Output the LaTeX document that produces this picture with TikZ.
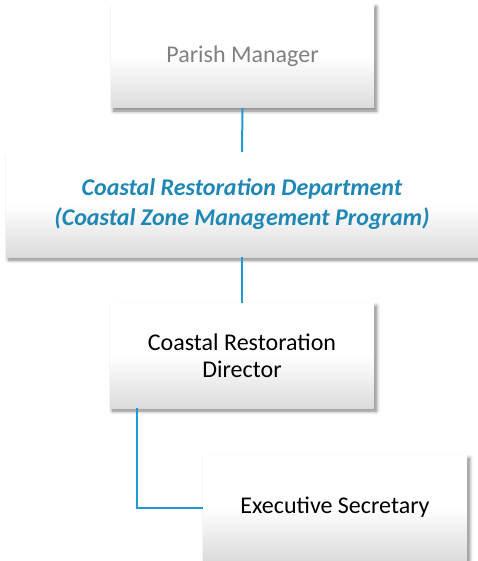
\documentclass[tikz,border=0pt]{standalone}
\usepackage{fontspec}
\setmainfont{Carlito}
\usetikzlibrary{shadows.blur,calc}
\definecolor{linkblue}{RGB}{27,154,214}
\definecolor{titleblue}{RGB}{31,135,181}
\tikzset{
  orgbox/.style={rectangle, inner sep=0pt, align=center,
    top color=white, bottom color=black!14, middle color=white,
    blur shadow={shadow xshift=2.5pt, shadow yshift=-3pt, shadow blur steps=8, shadow blur radius=3.5pt, shadow opacity=50}},
  link/.style={draw=linkblue, line width=2pt}
}
\begin{document}
\begin{tikzpicture}[x=1pt,y=-1pt]
\useasboundingbox (0,0) rectangle (478,561);
\node[orgbox, minimum width=263pt, minimum height=104pt, text=black!50, font=\fontsize{24}{27}\selectfont] (pm) at (242.5,56) {Parish Manager};
\node[orgbox, minimum width=472pt, minimum height=105pt, text=titleblue, font=\fontsize{24}{30}\selectfont\bfseries\itshape] (crd) at (242,204.5) {Coastal Restoration Department\\(Coastal Zone Management Program)};
\node[orgbox, minimum width=264pt, minimum height=105pt, font=\fontsize{24}{27}\selectfont] (dir) at (242,355.5) {Coastal Restoration\\Director};
\node[orgbox, minimum width=264pt, minimum height=105pt, font=\fontsize{24}{27}\selectfont] (sec) at (335,507.5) {Executive Secretary};
\draw[link] (pm.south) -- (crd.north);
\draw[link] (crd.south) -- (dir.north);
\draw[link] ($(dir.south west)+(27,0)$) |- (sec.west);
\end{tikzpicture}
\end{document}
